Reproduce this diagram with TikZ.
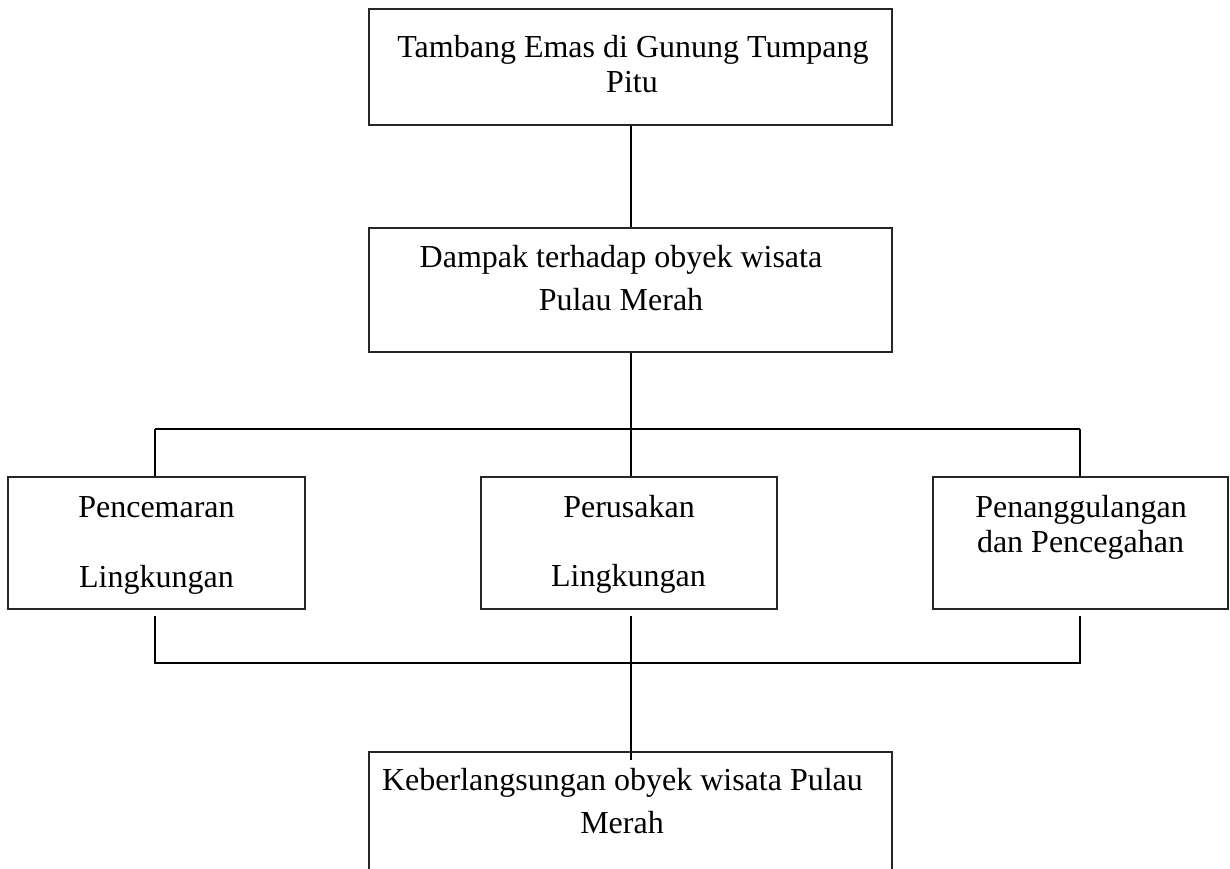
\documentclass[tikz,border=0pt]{standalone}
\usepackage{fontspec}
\setmainfont{Liberation Serif}
\begin{document}
\begin{tikzpicture}[x=1pt,y=-1pt,
  box/.style={draw=black!85,line width=1.1pt,rectangle,inner sep=0pt},
  txt/.style={anchor=base,inner sep=0pt,font=\fontsize{32}{34}\selectfont},
  conn/.style={draw=black,line width=1.4pt}]
\useasboundingbox (0,0) rectangle (1230,868);
\clip (0,0) rectangle (1230,868);
% boxes
\node[box,minimum width=523pt,minimum height=116pt] (b1) at (630.5,67) {};
\node[box,minimum width=523pt,minimum height=124pt] (b2) at (630.5,290) {};
\node[box,minimum width=297pt,minimum height=132pt] (bl) at (156.5,543) {};
\node[box,minimum width=296pt,minimum height=132pt] (bm) at (629,543) {};
\node[box,minimum width=295pt,minimum height=132pt] (br) at (1080.5,543) {};
\node[box,minimum width=523pt,minimum height=130pt] (b3) at (630.5,817) {};
% texts
\node[txt] (t1a) at (633,57) {Tambang Emas di Gunung Tumpang};
\node[txt] (t1b) at (632,92) {Pitu};
\node[txt] (t2a) at (621,267) {Dampak terhadap obyek wisata};
\node[txt] (t2b) at (621,310) {Pulau Merah};
\node[txt] (tla) at (156.5,517) {Pencemaran};
\node[txt] (tlb) at (156.5,587) {Lingkungan};
\node[txt] (tma) at (629,517) {Perusakan};
\node[txt] (tmb) at (628.5,586) {Lingkungan};
\node[txt] (tra) at (1081,517) {Penanggulangan};
\node[txt] (trb) at (1080.5,552) {dan Pencegahan};
\node[txt] (t3a) at (622.5,790) {Keberlangsungan obyek wisata Pulau};
\node[txt] (t3b) at (622,833) {Merah};
% junction coordinates
\coordinate (ul) at (155,429);
\coordinate (um) at (631,429);
\coordinate (ur) at (1080,429);
\coordinate (sl) at (155,616);
\coordinate (sm) at (631,616);
\coordinate (sr) at (1080,616);
\coordinate (dl) at (155,663);
\coordinate (dm) at (631,663);
\coordinate (dr) at (1080,663);
\coordinate (e3) at (631,760);
% connectors
\draw[conn] (b1.south -| um) -- (b2.north -| um);
\draw[conn] (b2.south -| um) -- (um);
\draw[conn] (ul) -- (ur);
\draw[conn] (ul) -- (ul |- bl.north);
\draw[conn] (um) -- (um |- bm.north);
\draw[conn] (ur) -- (ur |- br.north);
\draw[conn] (sl) -- (dl) -- (dr) -- (sr);
\draw[conn] (sm) -- (dm);
\draw[conn] (dm) -- (e3);
\end{tikzpicture}
\end{document}
